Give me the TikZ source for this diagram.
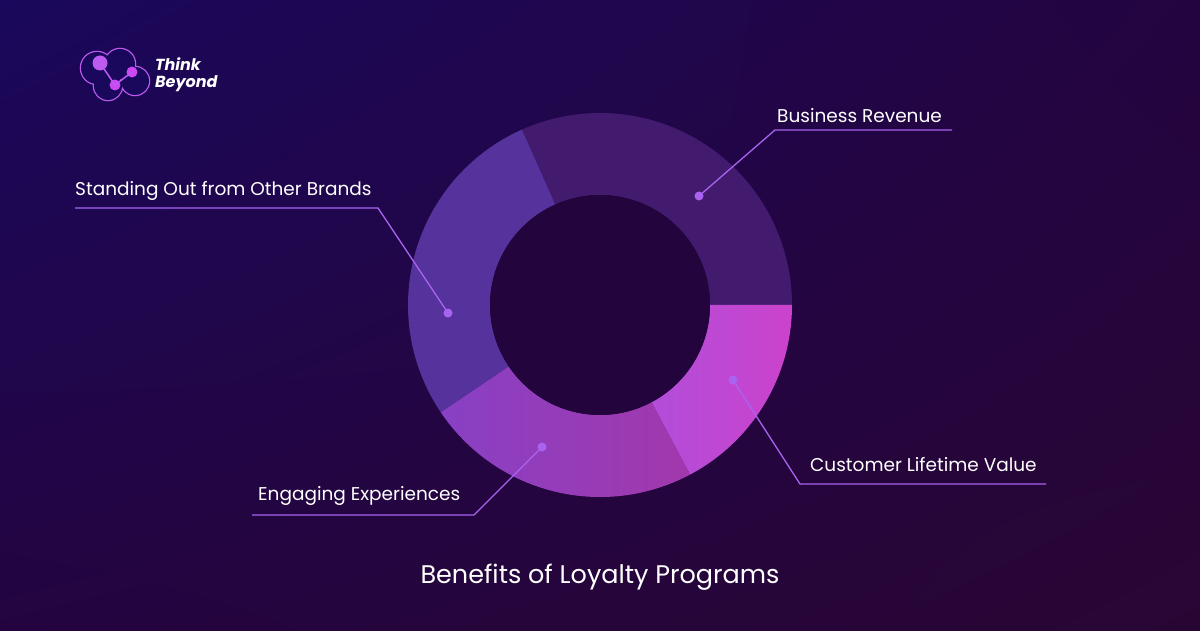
\documentclass[tikz,border=0pt]{standalone}
\usepackage{fontspec}
\setmainfont{Poppins}
\usetikzlibrary{shadings}
\definecolor{bgtl}{RGB}{26,8,92}
\definecolor{bgbr}{RGB}{40,6,52}
\definecolor{bgmid}{RGB}{36,4,64}
\definecolor{holecol}{RGB}{36,4,60}
\definecolor{revcol}{RGB}{66,26,110}
\definecolor{standcol}{RGB}{86,50,156}
\definecolor{engleft}{RGB}{136,64,196}
\definecolor{engright}{RGB}{162,56,172}
\definecolor{custleft}{RGB}{168,82,222}
\definecolor{custright}{RGB}{204,66,204}
\definecolor{leadcol}{RGB}{168,100,240}
\definecolor{logocol}{RGB}{190,90,240}
\tikzset{
  labeltext/.style={white, font=\fontsize{18.5}{22}\selectfont, anchor=south west, inner sep=0pt},
  leader/.style={leadcol, line width=1.3pt},
  dotmark/.style={circle, fill=leadcol, inner sep=0pt, minimum size=9pt}
}
\begin{document}
\begin{tikzpicture}[x=1pt, y=1pt]
    % Background
    \useasboundingbox (0,0) rectangle (1200,630);
    \shade[upper left=bgtl, upper right=bgmid, lower left=bgmid, lower right=bgbr] (0,0) rectangle (1200,630);
    % Donut segments
    \fill[revcol] (600,325) ++(0:192) arc (0:114:192) -- ++(294:82) arc (114:0:110) -- cycle;
    \fill[standcol] (600,325) ++(114:192) arc (114:214:192) -- ++(34:82) arc (214:114:110) -- cycle;
    \shade[left color=engleft, right color=engright] (600,325) ++(214:192) arc (214:298:192) -- ++(118:82) arc (298:214:110) -- cycle;
    \shade[left color=custleft, right color=custright] (600,325) ++(298:192) arc (298:360:192) -- ++(180:82) arc (360:298:110) -- cycle;
    \fill[holecol] (600,325) circle (110);
    % Business Revenue
    \node[dotmark] (revdot) at (699,434) {};
    \coordinate (revbend) at (775,500);
    \coordinate (revend) at (952,500);
    \draw[leader] (revdot.center) -- (revbend) -- (revend);
    \node[labeltext] (revlabel) at (777,507) {Business Revenue};
    % Standing Out
    \node[dotmark] (standdot) at (448,317) {};
    \coordinate (standbend) at (378,422);
    \coordinate (standend) at (75,422);
    \draw[leader] (standdot.center) -- (standbend) -- (standend);
    \node[labeltext] (standlabel) at (75,429) {Standing Out from Other Brands};
    % Customer Lifetime Value
    \node[dotmark] (custdot) at (733,250) {};
    \coordinate (custbend) at (800,146);
    \coordinate (custend) at (1046,146);
    \draw[leader] (custdot.center) -- (custbend) -- (custend);
    \node[labeltext] (custlabel) at (810,158) {Customer Lifetime Value};
    % Engaging Experiences
    \node[dotmark] (engdot) at (542,183) {};
    \coordinate (engbend) at (474,115);
    \coordinate (engend) at (252,115);
    \draw[leader] (engdot.center) -- (engbend) -- (engend);
    \node[labeltext] (englabel) at (258,124) {Engaging Experiences};
    % Title
    \node[white, font=\fontsize{25.5}{30}\selectfont] (title) at (600,53) {Benefits of Loyalty Programs};
    % Logo
    \draw[logocol, line width=2.5pt] (97,562) circle (16) (120,566) circle (15) (135,549) circle (14) (108,544) circle (14);
    \fill[bgtl] (97,562) circle (16) (120,566) circle (15) (135,549) circle (14) (108,544) circle (14);
    \fill[logocol] (100,567) circle (7.5);
    \fill[logocol!80!magenta] (132,558) circle (5.5);
    \fill[logocol!80!magenta] (115,545) circle (5.5);
    \draw[logocol, line width=1.5pt] (100,567) -- (115,545) -- (132,558);
    \node[white, font=\bfseries\itshape\fontsize{16}{17}\selectfont, anchor=west, align=left, inner sep=0pt] (logotext) at (155,555) {Think\\Beyond};
\end{tikzpicture}
\end{document}
